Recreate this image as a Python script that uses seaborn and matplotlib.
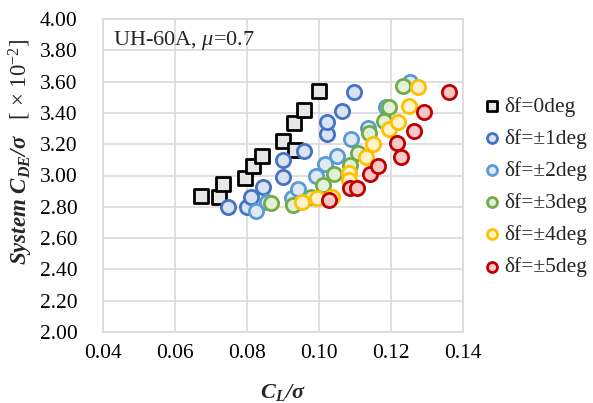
import matplotlib
matplotlib.use("Agg")
import matplotlib.pyplot as plt
import seaborn as sns
import pandas as pd

# ---- data (C_L/sigma, C_DE/sigma x1e-2) ----
x0 = [0.0672, 0.0722, 0.0733, 0.0795, 0.0818, 0.0842, 0.0899, 0.0932, 0.0930, 0.0957, 0.1001]
y0 = [2.869, 2.865, 2.948, 2.986, 3.063, 3.122, 3.222, 3.161, 3.333, 3.418, 3.540]

x1 = [0.0747, 0.0801, 0.0812, 0.0845, 0.0899, 0.0899, 0.0958, 0.1021, 0.1021, 0.1065, 0.1098]
y1 = [2.799, 2.799, 2.862, 2.928, 2.988, 3.099, 3.156, 3.263, 3.340, 3.412, 3.532]

x2 = [0.0826, 0.0855, 0.0924, 0.0943, 0.0992, 0.1017, 0.1049, 0.1089, 0.1137, 0.1186, 0.1253]
y2 = [2.771, 2.830, 2.856, 2.914, 2.997, 3.071, 3.127, 3.233, 3.301, 3.436, 3.600]

x3 = [0.0868, 0.0927, 0.0977, 0.1012, 0.1042, 0.1086, 0.1108, 0.1139, 0.1181, 0.1194, 0.1232]
y3 = [2.824, 2.811, 2.865, 2.939, 3.008, 3.067, 3.142, 3.270, 3.348, 3.436, 3.574]

x4 = [0.0954, 0.0994, 0.1036, 0.1082, 0.1084, 0.1130, 0.1151, 0.1194, 0.1219, 0.1251, 0.1276]
y4 = [2.833, 2.858, 2.861, 3.018, 2.971, 3.120, 3.199, 3.295, 3.340, 3.446, 3.567]

x5 = [0.1027, 0.1086, 0.1105, 0.1142, 0.1163, 0.1228, 0.1216, 0.1265, 0.1292, 0.1361]
y5 = [2.843, 2.918, 2.918, 3.010, 3.063, 3.120, 3.210, 3.284, 3.404, 3.532]

labels = ["δf=0deg", "δf=±1deg", "δf=±2deg", "δf=±3deg", "δf=±4deg", "δf=±5deg"]
xticks = [0.04, 0.06, 0.08, 0.10, 0.12, 0.14]
yticks = [2.00, 2.20, 2.40, 2.60, 2.80, 3.00, 3.20, 3.40, 3.60, 3.80, 4.00]

edges = ["#000000", "#4472C4", "#5B9BD5", "#70AD47", "#FFC000", "#C00000"]
faces = ["#E7E6E6", "#DAE3F3", "#DEEBF7", "#E2F0D9", "#FFF2CC", "#F8C8C8"]
markers = ["s", "o", "o", "o", "o", "o"]

frames = []
for lab, xs, ys in zip(labels, [x0, x1, x2, x3, x4, x5], [y0, y1, y2, y3, y4, y5]):
    frames.append(pd.DataFrame({"CL": xs, "CDE": ys, "series": lab}))
df = pd.concat(frames, ignore_index=True)

sns.set_theme(style="white")
plt.rcParams["font.family"] = ["Liberation Serif", "DejaVu Serif"]
plt.rcParams["mathtext.fontset"] = "custom"
plt.rcParams["mathtext.rm"] = "Liberation Serif"
plt.rcParams["mathtext.it"] = "Liberation Serif:italic"
plt.rcParams["mathtext.bf"] = "Liberation Serif:bold:italic"

fig = plt.figure(figsize=(5.93, 4.03), dpi=100)
ax = fig.add_axes([103 / 593, 1 - 332 / 403, 360 / 593, 313 / 403])

for i, lab in enumerate(labels):
    sub = df[df["series"] == lab]
    sns.scatterplot(data=sub, x="CL", y="CDE", ax=ax, marker=markers[i],
                    s=95 if i == 0 else 105, facecolor=faces[i], edgecolor=edges[i],
                    linewidth=2.0, label=lab, zorder=3 + i)

ax.set_xlim(0.04, 0.14)
ax.set_ylim(2.0, 4.0)
ax.set_xticks(xticks)
ax.set_yticks(yticks)
ax.set_xticklabels([f"{v:.2f}" for v in xticks])
ax.set_yticklabels([f"{v:.2f}" for v in yticks])
ax.tick_params(axis="both", labelsize=15.5, length=0, colors="#000000")
ax.tick_params(axis="y", pad=18.5)
ax.tick_params(axis="x", pad=9)
ax.grid(True, color="#D9D9D9", linewidth=1.2)
ax.set_axisbelow(True)
for sp in ax.spines.values():
    sp.set_color("#D9D9D9")
    sp.set_linewidth(1.2)

ax.set_xlabel(r"$\mathbf{C_L/\sigma}$", fontsize=16)
ax.xaxis.set_label_coords(0.5, -0.16)
ax.set_ylabel(r"$\mathbf{System\ C_{DE}/\sigma}$   [ × 10$^{-2}$]", fontsize=16.5)
ax.yaxis.set_label_coords(-0.19, 0.575)

ax.text(0.028, 0.93, "UH-60A, $\\mu$=0.7", transform=ax.transAxes, fontsize=16,
        ha="left", va="center")

leg = ax.legend(loc="upper left", bbox_to_anchor=(1.035, 0.78), frameon=False,
                fontsize=15.5, handletextpad=0.25, labelspacing=0.56, borderaxespad=0,
                handlelength=0.7, markerscale=0.7)

fig.savefig("out.png", dpi=100)
